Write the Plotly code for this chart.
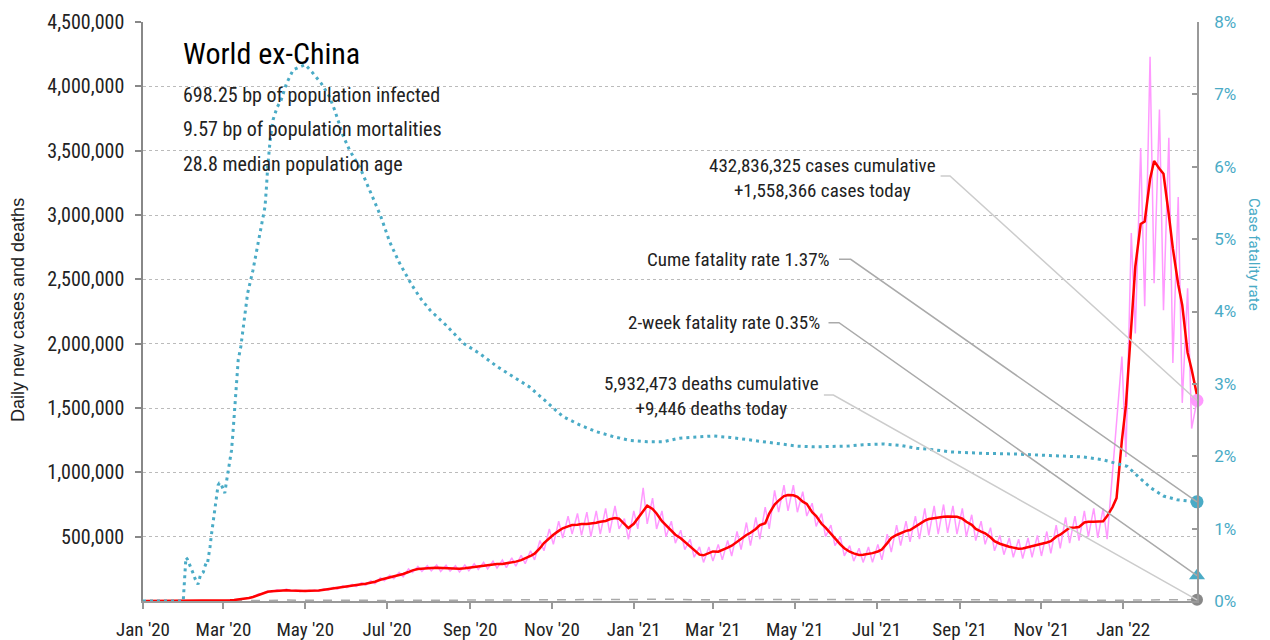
import plotly.graph_objects as go
import pandas as pd

# ---------------- data ----------------
# half-week grid (Fri / Mon) starting 2020-01-03, values in thousands of cases
cases_daily_k = [
    0, 0, 0, 0, 0, 0, 0, 0, 0, 0, 0, 0, 0, 0,
    1, 1, 2, 2, 6, 7, 14, 16, 26, 30, 55, 58, 78, 70, 88, 78, 92, 76,
    86, 72, 84, 74, 86, 76, 95, 84, 106, 92, 118, 104, 130, 112, 142, 122,
    158, 134, 180, 158, 200, 174, 222, 188, 250, 222, 268, 230, 275, 235,
    280, 230, 278, 232, 275, 225, 280, 235, 290, 245, 300, 250, 310, 255,
    318, 260, 335, 270, 355, 290, 390, 320, 470, 390, 560, 440, 620, 490,
    660, 520, 680, 510, 690, 500, 700, 520, 720, 530, 740, 560, 640, 480,
    700, 560, 880, 600, 800, 560, 700, 500, 620, 450, 550, 400, 480, 340,
    420, 300, 420, 310, 440, 320, 470, 350, 540, 400, 610, 430, 650, 480,
    730, 560, 860, 690, 900, 700, 900, 690, 850, 660, 760, 580, 680, 500,
    590, 430, 500, 350, 430, 310, 410, 300, 420, 300, 440, 320, 520, 380,
    590, 430, 620, 460, 660, 480, 720, 510, 740, 520, 750, 530, 740, 520,
    720, 500, 670, 470, 620, 440, 570, 390, 510, 360, 490, 340, 480, 330,
    490, 340, 510, 350, 540, 370, 590, 410, 650, 450, 660, 470, 700, 500,
    720, 490, 720, 480, 1000, 1370, 1900, 1120, 2860, 2080, 3520, 2290,
    4230, 2470, 3820, 2260, 3600, 1850, 3140, 1540, 2430, 1340, 1558.366,
]
cases_avg_k = [
    0, 0, 0, 0, 0, 0, 0, 0, 0, 0, 0, 0, 0, 0,
    1, 1, 2, 3, 5, 8, 12, 17, 23, 31, 48, 60, 72, 76, 80, 84, 84, 82,
    79, 78, 78, 79, 80, 82, 88, 93, 98, 102, 110, 114, 120, 124, 130, 134,
    142, 150, 165, 172, 183, 190, 200, 210, 225, 238, 248, 252, 255, 257,
    258, 256, 255, 257, 252, 250, 254, 258, 268, 272, 276, 278, 283, 287,
    288, 292, 300, 306, 318, 330, 350, 368, 410, 450, 488, 515, 545, 565,
    580, 590, 592, 598, 598, 600, 608, 616, 622, 635, 645, 640, 600, 567,
    600, 645, 700, 741, 715, 680, 620, 590, 545, 515, 488, 460, 420, 395,
    360, 355, 370, 385, 383, 395, 415, 430, 460, 485, 513, 530, 560, 590,
    605, 680, 750, 780, 815, 824, 822, 810, 772, 755, 690, 660, 600, 570,
    520, 490, 440, 410, 383, 370, 358, 360, 365, 372, 385, 400, 450, 490,
    513, 528, 545, 552, 580, 600, 625, 637, 645, 650, 655, 656, 656, 655,
    640, 616, 592, 560, 540, 526, 495, 465, 445, 433, 422, 415, 406, 408,
    418, 425, 432, 443, 455, 465, 500, 515, 545, 570, 572, 575, 610, 616,
    616, 618, 620, 660, 730, 800, 1250, 1520, 2120, 2600, 2930, 2950,
    3280, 3420, 3360, 3320, 3000, 2740, 2460, 2300, 1930, 1800, 1600,
]

deaths_dates = ["2020-01-01", "2020-02-01", "2020-03-01", "2020-04-01", "2020-04-15",
                "2020-05-01", "2020-06-01", "2020-07-01", "2020-08-01", "2020-09-01",
                "2020-10-01", "2020-11-01", "2020-12-01", "2021-01-01", "2021-01-20",
                "2021-02-15", "2021-03-15", "2021-04-15", "2021-05-01", "2021-06-01",
                "2021-07-01", "2021-08-01", "2021-09-01", "2021-10-01", "2021-11-01",
                "2021-12-01", "2022-01-01", "2022-02-01", "2022-02-25"]
deaths_k = [0, 0, 0.1, 4, 7, 5.5, 4.5, 4.5, 5.8, 5.8, 5.5, 7.5, 11, 11.5, 14.5,
            10, 8.5, 11.5, 12.5, 10, 7.5, 9, 9.5, 7.5, 6.5, 7, 6, 9.5, 9.446]

# cumulative case fatality rate (%), by day since 2020-01-01
cfr_day = [0, 30, 31, 32, 33, 35, 37, 39, 41, 43, 45, 46, 47, 48, 49, 50, 51, 52, 53,
           54, 55, 56, 57, 58, 59, 61, 62, 63, 64, 65, 66, 67, 68, 69, 70, 71, 73, 76,
           78, 82, 85, 88, 91, 92, 93, 95, 97, 100, 103, 107, 112, 117, 121, 126, 133,
           139, 143, 149, 154, 162, 169, 177, 184, 191, 200, 207, 214, 226, 239, 251,
           264, 276, 288, 301, 313, 326, 338, 351, 363, 376, 388, 400, 413, 425, 438,
           450, 463, 475, 488, 500, 512, 525, 537, 552, 565, 577, 590, 602, 627, 652,
           676, 701, 716, 726, 734, 741, 751, 761, 771, 786]
cfr_pct = [0, 0, 0.30, 0.60, 0.58, 0.50, 0.40, 0.30, 0.23, 0.37, 0.40, 0.47, 0.52,
           0.51, 0.61, 0.75, 0.91, 1.05, 1.17, 1.30, 1.45, 1.60, 1.63, 1.63, 1.58, 1.49,
           1.62, 1.75, 1.85, 1.95, 2.08, 2.30, 2.55, 2.85, 3.10, 3.33, 3.52, 3.98, 4.25,
           4.57, 4.85, 5.15, 5.45, 5.70, 6.00, 6.40, 6.65, 6.82, 6.92, 7.15, 7.34, 7.38,
           7.41, 7.31, 7.15, 6.97, 6.78, 6.44, 6.23, 5.98, 5.68, 5.33, 4.96, 4.68, 4.38,
           4.18, 4.02, 3.81, 3.56, 3.42, 3.24, 3.10, 2.96, 2.75, 2.55, 2.43, 2.34, 2.27,
           2.22, 2.20, 2.20, 2.25, 2.27, 2.28, 2.26, 2.23, 2.20, 2.17, 2.14, 2.13, 2.13,
           2.14, 2.16, 2.17, 2.15, 2.11, 2.09, 2.06, 2.04, 2.03, 2.01, 1.99, 1.95, 1.90,
           1.86, 1.74, 1.57, 1.45, 1.40, 1.37]

last_date = "2022-02-25"
cases_today = 1558366
deaths_today = 9446
cume_cfr = 1.37
twoweek_cfr = 0.35

x_tick_dates = ["2020-01-01", "2020-03-01", "2020-05-01", "2020-07-01", "2020-09-01",
                "2020-11-01", "2021-01-01", "2021-03-01", "2021-05-01", "2021-07-01",
                "2021-09-01", "2021-11-01", "2022-01-01"]
x_tick_text = ["Jan '20", "Mar '20", "May '20", "Jul '20", "Sep '20", "Nov '20",
               "Jan '21", "Mar '21", "May '21", "Jul '21", "Sep '21", "Nov '21", "Jan '22"]
y_ticks = [500000, 1000000, 1500000, 2000000, 2500000, 3000000, 3500000, 4000000, 4500000]
y2_ticks = [0, 1, 2, 3, 4, 5, 6, 7, 8]

# ---------------- build ----------------
offsets = []
d = 2
for k in range(113):
    offsets.append(d)
    if k < 112:
        offsets.append(d + 3)
    d += 7
grid_dates = pd.Timestamp("2020-01-01") + pd.to_timedelta(offsets, unit="D")
cfr_dates = pd.Timestamp("2020-01-01") + pd.to_timedelta(cfr_day, unit="D")

NARROW = "Roboto Condensed, Liberation Sans Narrow, Roboto, sans-serif"
TEAL = "#4aabc6"
PINK = "#ff99ff"
YMAX = 4500000
Y2MAX = 8

fig = go.Figure()
fig.add_trace(go.Scatter(x=grid_dates, y=[v * 1000 for v in cases_daily_k], mode="lines",
                         line=dict(color=PINK, width=1.5), hoverinfo="skip"))
fig.add_trace(go.Scatter(x=pd.to_datetime(deaths_dates), y=[v * 1000 for v in deaths_k],
                         mode="lines", line=dict(color="#aaaaaa", width=1.5, dash="dash"),
                         hoverinfo="skip"))
fig.add_trace(go.Scatter(x=grid_dates, y=[v * 1000 for v in cases_avg_k], mode="lines",
                         line=dict(color="#ff0000", width=2.5), hoverinfo="skip"))
fig.add_trace(go.Scatter(x=cfr_dates, y=cfr_pct, mode="lines", yaxis="y2",
                         line=dict(color=TEAL, width=3, dash="3px,4px"), hoverinfo="skip"))
# end markers
fig.add_trace(go.Scatter(x=[last_date], y=[cases_today], mode="markers", cliponaxis=False,
                         marker=dict(color=PINK, size=13)))
fig.add_trace(go.Scatter(x=[last_date], y=[deaths_today], mode="markers", cliponaxis=False,
                         marker=dict(color="#888888", size=12)))
fig.add_trace(go.Scatter(x=[last_date], y=[cume_cfr], mode="markers", yaxis="y2",
                         cliponaxis=False, marker=dict(color=TEAL, size=13)))
fig.add_trace(go.Scatter(x=[last_date], y=[twoweek_cfr], mode="markers", yaxis="y2",
                         cliponaxis=False,
                         marker=dict(color=TEAL, size=14, symbol="triangle-up")))

# plot area geometry (pixels) for paper conversions
L, R, T, B = 143, 1197, 22, 601
def px(X):
    return (X - L) / (R - L)
def py(Y):
    return (B - Y) / (B - T)

annots = []
def txt(x, y, text, size, xanchor="left", align="left", color="#222222", family=NARROW):
    annots.append(dict(x=px(x), y=py(y), xref="paper", yref="paper", text=text,
                       showarrow=False, xanchor=xanchor, yanchor="middle", align=align,
                       font=dict(family=family, size=size, color=color)))

txt(181, 53, "World ex-China", 30, color="#000000")
txt(181, 95, "698.25 bp of population infected", 20)
txt(181, 129.5, "9.57 bp of population mortalities", 20)
txt(181, 163.5, "28.8 median population age", 20)

txt(822, 177.5, f"{432836325:,} cases cumulative<br>+{cases_today:,} cases today", 19,
    xanchor="center", align="center")
txt(832, 259.3, f"Cume fatality rate {cume_cfr:.2f}%", 19, xanchor="right", align="right")
txt(822, 322.7, f"2-week fatality rate {twoweek_cfr:.2f}%", 19, xanchor="right", align="right")
txt(711, 395.5, f"{5932473:,} deaths cumulative<br>+{deaths_today:,} deaths today", 19,
    xanchor="center", align="center")

# axis titles
annots.append(dict(x=px(18), y=py(310), xref="paper", yref="paper",
                   text="Daily new cases and deaths", showarrow=False, textangle=-90,
                   xanchor="center", yanchor="middle",
                   font=dict(family="Liberation Sans, Arial, sans-serif", size=18, color="#222222")))
annots.append(dict(x=px(1254), y=py(254), xref="paper", yref="paper",
                   text="Case fatality rate", showarrow=False, textangle=90,
                   xanchor="center", yanchor="middle",
                   font=dict(family="Roboto, sans-serif", size=15, color=TEAL)))

# leader lines (end at the data markers)
def leader(x0, y0, x1, end_val_frac, color):
    return dict(type="path", xref="paper", yref="paper",
                path=f"M {px(x0)} {py(y0)} L {px(x1)} {py(y0)} L 1 {end_val_frac}",
                line=dict(color=color, width=1.5))

shapes = [
    leader(940.6, 176, 950, cases_today / YMAX, "#cccccc"),
    leader(839, 259.3, 850.7, cume_cfr / Y2MAX, "#aaaaaa"),
    leader(828.5, 322.7, 839, twoweek_cfr / Y2MAX, "#aaaaaa"),
    leader(823.9, 395, 833.4, deaths_today / YMAX, "#cccccc"),
]

fig.update_layout(
    width=1270, height=640,
    margin=dict(l=L, r=1270 - R, t=T, b=640 - B, pad=0, autoexpand=False),
    paper_bgcolor="white", plot_bgcolor="white",
    showlegend=False,
    annotations=annots,
    shapes=shapes,
    xaxis=dict(type="date", range=["2020-01-01", last_date], automargin=False,
               tickvals=x_tick_dates, ticktext=x_tick_text,
               showgrid=False, zeroline=False,
               showline=True, linecolor="#999999", linewidth=2,
               ticks="outside", ticklen=6, tickcolor="#999999", tickwidth=1.5,
               ticklabelstandoff=4,
               tickfont=dict(family=NARROW, size=19, color="#222222")),
    yaxis=dict(range=[0, YMAX], tickvals=y_ticks, tickformat=",", automargin=False,
               showgrid=True, gridcolor="#bbbbbb", griddash="dot", gridwidth=1,
               zeroline=False, showline=True, linecolor="#888888", linewidth=1.5,
               ticks="outside", ticklen=6, tickcolor="#888888", tickwidth=1.5,
               ticklabelstandoff=7,
               tickfont=dict(family=NARROW, size=20, color="#222222")),
    yaxis2=dict(range=[0, Y2MAX], tickvals=y2_ticks, automargin=False,
                ticktext=[f"{v}%" for v in y2_ticks],
                overlaying="y", side="right", showgrid=False, zeroline=False,
                showline=True, linecolor="#999999", linewidth=1.5,
                ticks="inside", ticklen=5, tickcolor="#999999", tickwidth=1.5,
                ticklabelstandoff=12,
                tickfont=dict(family="Roboto, sans-serif", size=17, color=TEAL)),
)

fig.write_html("out.html", config={"displayModeBar": False},
               post_script="document.body.style.margin='0';document.body.style.overflow='hidden';")
